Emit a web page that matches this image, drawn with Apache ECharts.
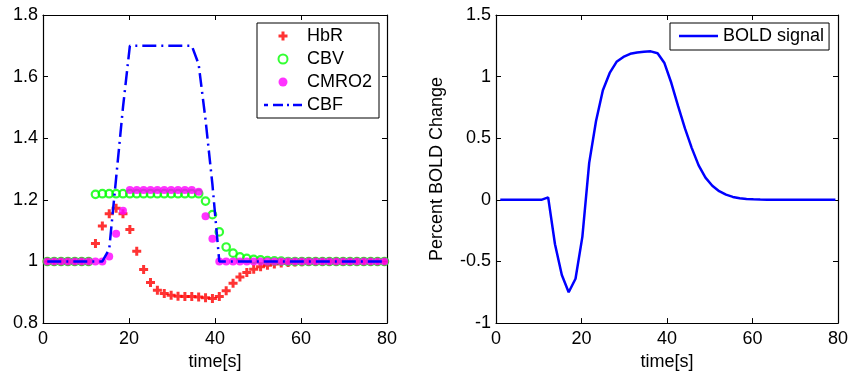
<!DOCTYPE html>
<html>
<head>
<meta charset="utf-8">
<script src="https://cdn.jsdelivr.net/npm/echarts@6/dist/echarts.min.js"></script>
<style>
  html, body { margin: 0; padding: 0; background: #fff; }
  #chart { width: 852px; height: 376px; }
</style>
</head>
<body>
<div id="chart"></div>
<script>
// sample times [s]
const time = [1, 2.6, 4.2, 5.8, 7.4, 9, 10.6, 12.2, 13.8, 15.4, 17, 18.6, 20.2, 21.8, 23.4, 25, 26.6, 28.2, 29.8, 31.4,
  33, 34.6, 36.2, 37.8, 39.4, 41, 42.6, 44.2, 45.8, 47.4, 49, 50.6, 52.2, 53.8, 55.4, 57, 58.6, 60.2, 61.8, 63.4,
  65, 66.6, 68.2, 69.8, 71.4, 73, 74.6, 76.2, 77.8, 79.4]

const hbr = [1, 1, 1, 1, 1, 1, 1, 1.058, 1.115, 1.155, 1.173, 1.155, 1.104, 1.033, 0.974, 0.932, 0.907, 0.896, 0.89, 0.887,
  0.886, 0.886, 0.885, 0.882, 0.88, 0.886, 0.905, 0.929, 0.95, 0.964, 0.975, 0.983, 0.988, 0.992, 0.995, 0.997, 0.998, 0.999, 1, 1,
  1, 1, 1, 1, 1, 1, 1, 1, 1, 1]

const cbv = [1, 1, 1, 1, 1, 1, 1, 1.218, 1.22, 1.22, 1.22, 1.22, 1.22, 1.22, 1.22, 1.22, 1.22, 1.22, 1.22, 1.22,
  1.22, 1.22, 1.22, 1.196, 1.152, 1.096, 1.047, 1.027, 1.015, 1.01, 1.007, 1.005, 1.003, 1.002, 1.001, 1, 1, 1, 1, 1,
  1, 1, 1, 1, 1, 1, 1, 1, 1, 1]

const cmro2 = [1, 1, 1, 1, 1, 1, 1, 1, 1, 1.016, 1.09, 1.165, 1.232, 1.232, 1.232, 1.232, 1.232, 1.232, 1.232, 1.232,
  1.232, 1.232, 1.226, 1.147, 1.074, 1, 1, 1, 1, 1, 1, 1, 1, 1, 1, 1, 1, 1, 1, 1,
  1, 1, 1, 1, 1, 1, 1, 1, 1, 1]

const cbf = [1, 1, 1, 1, 1, 1, 1, 1, 1, 1.04, 1.27, 1.5, 1.7, 1.7, 1.7, 1.7, 1.7, 1.7, 1.7, 1.7,
  1.7, 1.7, 1.64, 1.46, 1.25, 1, 1, 1, 1, 1, 1, 1, 1, 1, 1, 1, 1, 1, 1, 1,
  1, 1, 1, 1, 1, 1, 1, 1, 1, 1]

const bold = [0, 0, 0, 0, 0, 0, 0, 0.02, -0.36, -0.61, -0.75, -0.64, -0.3, 0.3, 0.64, 0.89, 1.03, 1.12, 1.16, 1.185,
  1.196, 1.202, 1.205, 1.19, 1.11, 0.95, 0.76, 0.58, 0.42, 0.28, 0.18, 0.115, 0.07, 0.042, 0.024, 0.013, 0.007, 0.004, 0.002, 0.001,
  0, 0, 0, 0, 0, 0, 0, 0, 0, 0]

const timeTicks = [0, 80, 20]
const leftTicks = [0.8, 1.8, 0.2]
const rightTicks = [-1, 1.5, 0.5]

const font = '"Liberation Sans", Arial, Helvetica, sans-serif'
const plus = 'path://M3,0H6V3H9V6H6V9H3V6H0V3H3Z'
// legend samples for the two lines (no marker on them)
const dashDotIcon = 'path://M0,0H4V2.5H0Z M9,0H19V2.5H9Z M23,0H25V2.5H23Z M29,0H38V2.5H29Z'
const solidIcon = 'path://M0,0H39V2.5H0Z'

const pairs = arr => time.map((t, i) => [t, arr[i]])

function xAxis(grid, position, withLabels) {
  return {
    type: 'value',
    gridIndex: grid,
    position: position,
    min: timeTicks[0],
    max: timeTicks[1],
    interval: timeTicks[2],
    axisLine: { show: true, onZero: false, lineStyle: { color: '#000', width: 1.2 } },
    axisTick: { show: true, inside: true, length: 5, lineStyle: { color: '#000' } },
    axisLabel: { show: withLabels, fontSize: 18, color: '#000', fontFamily: font, margin: 7 },
    splitLine: { show: false },
    name: withLabels ? 'time[s]' : '',
    nameLocation: 'middle',
    nameGap: 26,
    nameTextStyle: { fontSize: 18, color: '#000', fontFamily: font, lineHeight: 18 }
  }
}

function yAxis(grid, position, ticks, withLabels, name) {
  return {
    type: 'value',
    gridIndex: grid,
    position: position,
    min: ticks[0],
    max: ticks[1],
    interval: ticks[2],
    axisLine: { show: true, onZero: false, lineStyle: { color: '#000', width: 1.2 } },
    axisTick: { show: true, inside: true, length: 5, lineStyle: { color: '#000' } },
    axisLabel: { show: withLabels, fontSize: 18, color: '#000', fontFamily: font, margin: 5 },
    splitLine: { show: false },
    name: name || '',
    nameLocation: 'middle',
    nameGap: 50,
    nameTextStyle: { fontSize: 18, color: '#000', fontFamily: font }
  }
}

const chart = echarts.init(document.getElementById('chart'), null, { renderer: 'canvas' })

chart.setOption({
  animation: false,
  backgroundColor: '#fff',
  textStyle: { fontFamily: font },
  grid: [
    { left: 43, top: 15, width: 344, height: 310 },
    { left: 496, top: 15, width: 342, height: 310 }
  ],
  xAxis: [
    xAxis(0, 'bottom', true),
    xAxis(0, 'top', false),
    xAxis(1, 'bottom', true),
    xAxis(1, 'top', false)
  ],
  yAxis: [
    yAxis(0, 'left', leftTicks, true),
    yAxis(0, 'right', leftTicks, false),
    yAxis(1, 'left', rightTicks, true, 'Percent BOLD Change'),
    yAxis(1, 'right', rightTicks, false)
  ],
  legend: [
    {
      orient: 'vertical',
      left: 257,
      top: 23,
      padding: [4, 7, 4, 7],
      itemGap: 5,
      itemWidth: 38,
      itemHeight: 9,
      borderColor: '#000',
      borderWidth: 1,
      backgroundColor: '#fff',
      selectedMode: false,
      textStyle: { fontSize: 18, color: '#000', fontFamily: font, lineHeight: 18 },
      data: ['HbR', 'CBV', 'CMRO2', { name: 'CBF', icon: dashDotIcon }]
    },
    {
      orient: 'vertical',
      left: 670,
      top: 23,
      padding: [4, 5, 5, 9],
      itemWidth: 39,
      itemHeight: 9,
      borderColor: '#000',
      borderWidth: 1,
      backgroundColor: '#fff',
      selectedMode: false,
      textStyle: { fontSize: 18, color: '#000', fontFamily: font, lineHeight: 18 },
      data: [{ name: 'BOLD signal', icon: solidIcon }]
    }
  ],
  series: [
    {
      name: 'HbR',
      type: 'scatter',
      xAxisIndex: 0,
      yAxisIndex: 0,
      symbol: plus,
      symbolSize: 9,
      itemStyle: { color: '#ff0000' },
      data: pairs(hbr)
    },
    {
      name: 'CBV',
      type: 'scatter',
      xAxisIndex: 0,
      yAxisIndex: 0,
      symbol: 'circle',
      symbolSize: 7.5,
      itemStyle: { color: 'rgba(0,0,0,0)', borderColor: '#00ff00', borderWidth: 2.2 },
      data: pairs(cbv)
    },
    {
      name: 'CMRO2',
      type: 'scatter',
      xAxisIndex: 0,
      yAxisIndex: 0,
      symbol: 'circle',
      symbolSize: 8,
      itemStyle: { color: '#ff00ff' },
      data: pairs(cmro2)
    },
    {
      name: 'CBF',
      type: 'line',
      xAxisIndex: 0,
      yAxisIndex: 0,
      symbol: 'none',
      color: '#0000ff',
      lineStyle: { color: '#0000ff', width: 2.5, type: [14, 5, 2, 5] },
      data: pairs(cbf)
    },
    {
      name: 'BOLD signal',
      type: 'line',
      xAxisIndex: 2,
      yAxisIndex: 2,
      symbol: 'none',
      color: '#0000ff',
      lineStyle: { color: '#0000ff', width: 2.5 },
      data: pairs(bold)
    }
  ]
})
</script>
</body>
</html>
